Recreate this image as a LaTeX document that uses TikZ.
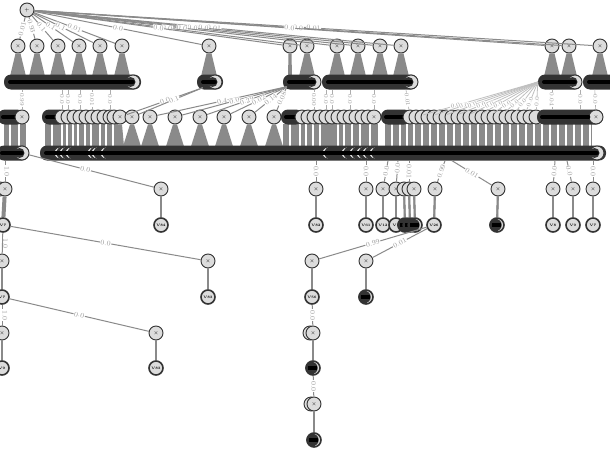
\documentclass[tikz,border=0pt]{standalone}
\usetikzlibrary{calc}
\definecolor{nfill}{HTML}{DCDCDC}
\definecolor{bord}{HTML}{333333}
\definecolor{edgec}{HTML}{8A8A8A}
\definecolor{labc}{HTML}{9A9A9A}
\tikzset{
 pn/.style={circle,draw=bord,fill=nfill,line width=0.9pt,minimum size=14pt,inner sep=0pt,font=\fontsize{5}{5}\selectfont},
 ln/.style={pn,line width=1.6pt,font=\fontsize{3.5}{3.5}\selectfont\bfseries},
 ed/.style={draw=edgec,line width=1pt},
 thinedge/.style={draw=edgec!70,line width=0.6pt},
 wl/.style={font=\fontsize{7}{7}\selectfont,text=labc,fill=white,inner sep=0.6pt},
 sl/.style={wl,font=\fontsize{6}{6}\selectfont},
 fan/.style={fill=edgec},
 barn/.style={fill=bord,rounded corners=7pt,minimum height=15pt,inner sep=0pt,draw=none},
 core/.style={draw=black,line width=3.5pt,line cap=round},
}
\newcommand\mydarkin[1]{\fill[bord] ($(#1.center)+(-2.5,0)$) circle (5pt);}
\newcommand\mydarkleaf[1]{\fill[bord] ($(#1.center)+(-1.5,0)$) circle (6.2pt);
  \fill[black] ($(#1.center)+(-5,-1.6)$) rectangle ($(#1.center)+(4,1.6)$);}
\begin{document}
\begin{tikzpicture}[x=1pt,y=-1pt]
\fill[white] (0,0) rectangle (610,450);
\useasboundingbox (0,0) rectangle (610,450);

% ---------------- root and row 1
\node[pn] (r) at (27,10) {$+$};
\foreach \x [count=\i] in {18,37,58,79,100,122,209,290,307,337,358,380,401,552,569,600}
  \node[pn] (a\i) at (\x,46) {$\times$};
\foreach \i in {1,2,3,4,5,6,7,9,10,11,12,13,14,15,16}
  \fill[fan] ($(a\i.south)+(-2.5,0)$) -- ($(a\i.south)+(2.5,0)$) -- ($(a\i.south)+(8,23)$) -- ($(a\i.south)+(-8,23)$) -- cycle;
\fill[fan] ($(a8.south)+(-1.5,0)$) -- ($(a8.south)+(1.5,0)$) -- ($(a8.south)+(2,23)$) -- ($(a8.south)+(-2,23)$) -- cycle;
\foreach \i/\l/\p in {16/0.01/0.5,15/0.0/0.5,14/0.0/0.5,13/0.01/0.5,12/0.0/0.5,11/0.0/0.5,10/0.0/0.5,9/0.0/0.5,8/0.0/0.5,7/0.0/0.5,6/0.01/0.5,5/0.1/0.45,4/0.1/0.44,3/0.1/0.45,2/0.93/0.42,1/0.01/0.55}
  \draw[ed] (r) -- (a\i) node[wl,sloped,pos=\p]{\l};

% ---------------- row 2 bars
\node[barn,minimum width=137pt] (bA) at (72.5,82) {};
\node[barn,minimum width=26pt] (bB) at (210,82) {};
\node[barn,minimum width=38pt] (bC) at (302,82) {};
\node[barn,minimum width=96pt] (bD) at (370,82) {};
\node[barn,minimum width=44pt] (bE) at (560,82) {};
\node[barn,minimum width=40pt] (bF) at (603,82) {};
\foreach \b/\x in {A/133,B/215,C/314,D/411,E/575} {
  \node[pn] (e\b) at (\x,82) {};
  \mydarkin{e\b}
  \draw[core] ([xshift=6pt]b\b.west) -- (e\b.center);
}
\draw[core] ([xshift=6pt]bF.west) -- ([xshift=-2pt]bF.east);

% ---------------- row 3 stripes
\fill[edgec] (4,124) rectangle (26,146);
\fill[edgec] (45,124) rectangle (118,146);
\fill[edgec] (283,124) rectangle (378,146);
\fill[edgec] (385,124) rectangle (592,146);
\foreach \x in {10,19,52,62,67,73,78,85,91,100,106,113,290,300,306,313,320,338,344,352,360,370,392,400,407}
  \draw[white,line width=1.1pt] (\x,124) -- (\x,146);
\foreach \x in {414,422,...,590}
  \draw[white,line width=1.1pt] (\x,124) -- (\x,146);

% ---------------- row 3 nodes
\node[barn,minimum width=26pt] (k1) at (11,117) {};
\draw[core] ([xshift=5pt]k1.west) -- ([xshift=-6pt]k1.east);
\node[pn] (k1e) at (22,117) {$\times$};
\node[barn,minimum width=24pt] (k2) at (54,117) {};
\draw[core] ([xshift=5pt]k2.west) -- ([xshift=-4pt]k2.east);
\foreach \x in {62,68,...,110} \node[pn] (q\x) at (\x,117) {};
\node[pn] (q114) at (114,117) {$\times$};
\foreach \x [count=\i] in {120,132,150,175,200,224,249,274}
  \node[pn] (c\i) at (\x,117) {$\times$};
\node[barn,minimum width=22pt] (k3) at (292,117) {};
\draw[core] ([xshift=5pt]k3.west) -- ([xshift=-3pt]k3.east);
\foreach \x in {302,308,...,368} \node[pn] (q\x) at (\x,117) {};
\node[pn] (q374) at (374,117) {$\times$};
\node[barn,minimum width=30pt] (k4) at (396,117) {};
\draw[core] ([xshift=5pt]k4.west) -- ([xshift=-4pt]k4.east);
\foreach \x in {410,416,...,536} \node[pn] (q\x) at (\x,117) {};
\node[barn,minimum width=66pt] (k5) at (570,117) {};
\node[pn] (k5e) at (596,117) {$\times$};
\draw[core] ([xshift=5pt]k5.west) -- (k5e.west);

\foreach \i in {2,...,8}
  \fill[fan] ($(c\i.south)+(-2,0)$) -- ($(c\i.south)+(2,0)$) -- ($(c\i.south)+(9,22)$) -- ($(c\i.south)+(-9,22)$) -- cycle;
\fill[fan] ($(c1.south)+(-2,0)$) -- ($(c1.south)+(2,0)$) -- ($(c1.south)+(4,22)$) -- ($(c1.south)+(-4,22)$) -- cycle;

% ---------------- row 2 -> row 3 connectors
\draw[ed] ($(bB.south west)+(6,-2)$) -- (c1) node[wl,sloped,pos=0.5]{0.0};
\draw[ed] ($(bB.south west)+(6,-2)$) -- (c2) node[wl,sloped,pos=0.45]{0.1};
\foreach \i/\l in {3/0.4,4/0.0,5/0.29,6/0.02,7/0.14,8/0.08}
  \draw[ed] ($(bC.south west)+(4,-3)$) -- (c\i) node[wl,sloped,pos=0.5]{\l};
\draw[thinedge] (k1e |- bA.south) -- (k1e) node[sl,midway,rotate=-90]{0.99};
\foreach \n/\l in {62/0.0,68/0.0,80/0.0,92/0.01,110/0.0}
  \draw[thinedge] (q\n |- bA.south) -- (q\n) node[sl,midway,rotate=-90]{\l};
\draw[thinedge] (q314 |- bC.south) -- (q314) node[sl,midway,rotate=-90]{0.00};
\foreach \n/\l in {326/0.0,332/0.0,350/0.0,374/0.0}
  \draw[thinedge] (q\n |- bD.south) -- (q\n) node[sl,midway,rotate=-90]{\l};
\draw[thinedge] ($(q410 |- bD.south)+(-4,0)$) -- (q410) node[sl,midway,sloped]{0.01};
\foreach \x in {416,428,...,536}
  \draw[draw=edgec!55,line width=0.8pt] (bE.west) -- (q\x) node[sl,sloped,pos=0.72]{0.0};
\draw[thinedge] ($(bE.south west)+(14,0)$) -- ($(k5.north west)+(15,0)$) node[sl,midway,rotate=-90]{0.04};
\draw[thinedge] ($(bE.south east)+(-2,0)$) -- ($(k5.north east)+(-23,0)$) node[sl,midway,rotate=-90]{0.0};
\draw[thinedge] ($(bF.south west)+(12,0)$) -- (k5e) node[sl,midway,rotate=-90]{0.0};

% ---------------- row 4 bars
\node[barn,minimum width=32pt] (bG) at (13,153) {};
\node[barn,minimum width=566pt] (bH) at (323,153) {};
\foreach \x in {60,65,71,93,97,106,328,347,355,362,368,375} {
  \node[pn,minimum size=12pt] (m\x) at (\x,153) {};
  \fill[bord] ($(m\x.center)+(3,0)$) circle (6.5pt);
}
\node[pn] (eG) at (22,153) {};
\mydarkin{eG}
\draw[core] ([xshift=5pt]bG.west) -- (eG.center);
\node[pn] (eH) at (597,153) {};
\mydarkin{eH}
\draw[core] ([xshift=6pt]bH.west) -- (eH.center);

% ---------------- row 5
\node[pn] (s0) at (0,189) {};
\foreach \x/\n in {5/1,161/2,316/3,366/4,383/5,396/6,404/7,409/8,414/9,435/10,498/11,553/12,573/13,593/14}
  \node[pn] (s\n) at (\x,189) {$\times$};

% ---------------- row 6
\foreach \x/\n/\t in {3/1/V7,161/2/V84,316/3/V82,366/4/V61,383/5/V12,396/6/V1,405/7/V4,410/8/V5,415/9/V6,434/10/V26,497/11/V30,553/12/V8,573/13/V9,593/14/V7}
  \node[ln] (t\n) at (\x,225) {\t};
\foreach \n in {7,8,9,11} \mydarkleaf{t\n}
\foreach \n in {2,...,14} \draw[ed,line width=1.6pt] (s\n) -- (t\n);
\draw[ed,line width=4pt] (s1) -- (t1);

% ---------------- row 4 -> row 5 connectors
\draw[ed] (s1 |- bG.south) -- (s1) node[xshift=2pt,wl,midway,rotate=-90]{1.0};
\draw[ed] (eG) -- (s2) node[wl,sloped,pos=0.45]{0.0};
\draw[ed] (s3 |- bH.south) -- (s3) node[wl,midway,rotate=-90]{0.0};
\draw[ed] (s4 |- bH.south) -- (s4) node[wl,midway,rotate=-90]{0.0};
\draw[ed] ($(s5 |- bH.south)+(5,0)$) -- (s5) node[wl,sloped,pos=0.5]{0.0};
\draw[ed] ($(s6 |- bH.south)+(2,0)$) -- (s6) node[wl,sloped,pos=0.35]{0.0};
\draw[ed] (s8 |- bH.south) -- (s8) node[wl,midway,rotate=-90]{0.01};
\draw[ed] ($(s10 |- bH.south)+(10,0)$) -- (s10) node[wl,sloped,pos=0.5]{0.99};
\draw[ed] ($(s11 |- bH.south)+(-46,0)$) -- (s11) node[wl,sloped,pos=0.5]{0.01};
\draw[ed] ($(s12 |- bH.south)+(2,0)$) -- (s12) node[wl,sloped,pos=0.5]{0.0};
\draw[ed] ($(s13 |- bH.south)+(-6,0)$) -- (s13) node[wl,sloped,pos=0.5]{0.0};
\draw[ed] (s14 |- bH.south) -- (s14) node[wl,midway,rotate=-90]{0.0};

% ---------------- rows 7 and 8
\foreach \x/\n in {2/1,208/2,312/3,366/4}
  \node[pn] (g\n) at (\x,261) {$\times$};
\foreach \x/\n/\t in {2/1/V7,208/2/V83,312/3/V56,366/4/V40}
  \node[ln] (h\n) at (\x,297) {\t};
\mydarkleaf{h4}
\foreach \n in {1,...,4} \draw[ed,line width=1.6pt] (g\n) -- (h\n);
\draw[ed] (t1) -- (g1) node[xshift=3pt,wl,midway,rotate=-90]{1.0};
\draw[ed] (t1) -- (g2) node[wl,sloped,pos=0.5]{0.0};
\draw[ed] (t10) -- (g3) node[wl,sloped,pos=0.5]{0.99};
\draw[ed] (t10) -- (g4) node[wl,sloped,pos=0.5]{0.01};

% ---------------- rows 9 and 10
\node[pn] (i1) at (2,333) {$\times$};
\node[pn] (i2) at (156,333) {$\times$};
\node[pn] (i3b) at (310,333) {};
\node[pn] (i3) at (313,333) {$\times$};
\node[ln] (j1) at (2,368) {V9};
\node[ln] (j2) at (156,368) {V83};
\node[ln] (j3) at (313,368) {V20};
\mydarkleaf{j3}
\draw[ed] (h1) -- (i1) node[xshift=3pt,wl,midway,rotate=-90]{1.0};
\draw[ed] (h1) -- (i2) node[wl,sloped,pos=0.5]{0.0};
\draw[ed] (h3) -- (i3) node[wl,midway,rotate=-90]{0.0};
\draw[ed,line width=1.6pt] (i1) -- (j1);
\draw[ed,line width=1.6pt] (i2) -- (j2);
\draw[ed,line width=2.5pt] (i3) -- (j3);

% ---------------- rows 11 and 12
\node[pn] (u1b) at (311,404) {};
\node[pn] (u1) at (314,404) {$\times$};
\node[ln] (w1) at (314,440) {V20};
\mydarkleaf{w1}
\draw[ed] (j3) -- (u1) node[wl,midway,rotate=-90]{0.0};
\draw[ed,line width=2.5pt] (u1) -- (w1);
\end{tikzpicture}
\end{document}
